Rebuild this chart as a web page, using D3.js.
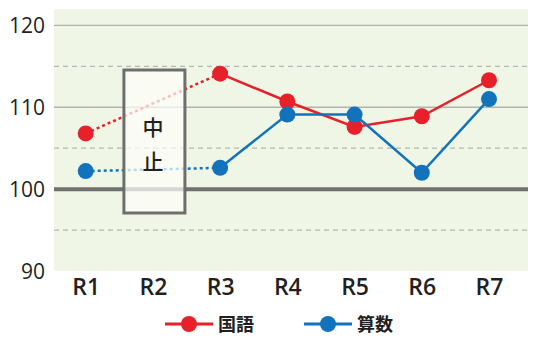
<!DOCTYPE html>
<html>
<head>
<meta charset="utf-8">
<script src="https://cdn.jsdelivr.net/npm/d3@7"></script>
<style>
  body { margin: 0; background: #fff; }
  text { font-family: "Noto Sans CJK JP", "Noto Sans", sans-serif; fill: #231f20; }
</style>
</head>
<body>
<svg id="chart"></svg>
<script>
var width = 538, height = 342;

var rounds = ["R1", "R2", "R3", "R4", "R5", "R6", "R7"];
var kokugo = [106.8, null, 114.1, 110.7, 107.6, 108.9, 113.3];
var sansu = [102.2, null, 102.6, 109.1, 109.1, 102.0, 111.0];
var yTicks = [90, 100, 110, 120];
var solidGrid = [110, 120];
var dashedGrid = [95, 105, 115];

var seriesList = [
  { name: "国語", values: kokugo, color: "#e8202a" },
  { name: "算数", values: sansu, color: "#1273bc" }
];

var svg = d3.select("#chart").attr("width", width).attr("height", height);

var x = d3.scalePoint().domain(rounds).range([85.7, 489]);
var y = d3.scaleLinear().domain([90, 122]).range([271, 9]);

// background
svg.append("rect")
  .attr("x", 54).attr("y", y(122))
  .attr("width", 528 - 54).attr("height", y(90) - y(122))
  .attr("fill", "#f0f6e6");

svg.selectAll(".gs").data(solidGrid).enter().append("line")
  .attr("x1", 54).attr("x2", 528)
  .attr("y1", function(d) { return y(d); }).attr("y2", function(d) { return y(d); })
  .attr("stroke", "#b0b4ac").attr("stroke-width", 1.3);

svg.selectAll(".gd").data(dashedGrid).enter().append("line")
  .attr("x1", 54).attr("x2", 528)
  .attr("y1", function(d) { return y(d); }).attr("y2", function(d) { return y(d); })
  .attr("stroke", "#b4b8b4").attr("stroke-width", 1.2)
  .attr("stroke-dasharray", "5,4");

// baseline 100
svg.append("line")
  .attr("x1", 54).attr("x2", 528)
  .attr("y1", y(100)).attr("y2", y(100))
  .attr("stroke", "#717171").attr("stroke-width", 4);

// lines
var line = d3.line()
  .defined(function(d) { return d.v != null; })
  .x(function(d) { return x(d.r); })
  .y(function(d) { return y(d.v); });

seriesList.forEach(function(s) {
  var pts = rounds.map(function(r, i) { return { r: r, v: s.values[i] }; });
  // dotted bridge over the skipped round
  svg.append("path")
    .attr("d", line([pts[0], pts[2]]))
    .attr("fill", "none").attr("stroke", s.color)
    .attr("stroke-width", 2.5).attr("stroke-dasharray", "3,3");
  svg.append("path")
    .attr("d", line(pts.slice(2)))
    .attr("fill", "none").attr("stroke", s.color)
    .attr("stroke-width", 2.5);
});

// 中止 box
var bx = x("R2") - 29;
svg.append("rect")
  .attr("x", bx).attr("y", 70)
  .attr("width", 61).attr("height", 143)
  .attr("fill", "#fdfdf8").attr("fill-opacity", 0.72)
  .attr("stroke", "#6e6e6e").attr("stroke-width", 3);

svg.append("text").attr("x", x("R2")).attr("y", 135)
  .attr("text-anchor", "middle").attr("font-size", 21).attr("font-weight", 500).text("中");
svg.append("text").attr("x", x("R2")).attr("y", 169)
  .attr("text-anchor", "middle").attr("font-size", 21).attr("font-weight", 500).text("止");

// markers
seriesList.forEach(function(s) {
  svg.selectAll(null).data(rounds.filter(function(r, i) { return s.values[i] != null; }))
    .enter().append("circle")
    .attr("cx", function(d) { return x(d); })
    .attr("cy", function(d) { return y(s.values[rounds.indexOf(d)]); })
    .attr("r", 8)
    .attr("fill", s.color);
});

// axes
var yAxis = svg.append("g").attr("transform", "translate(45,0)")
  .call(d3.axisLeft(y).tickValues(yTicks).tickSize(0).tickPadding(0));
yAxis.select(".domain").remove();
yAxis.selectAll("text").attr("font-size", 21).attr("dy", "0.36em")
  .style("font-family", "'Open Sans', sans-serif").style("fill", "#231f20");

var xAxis = svg.append("g").attr("transform", "translate(0,271)")
  .call(d3.axisBottom(x).tickSize(0).tickPadding(0));
xAxis.select(".domain").remove();
xAxis.selectAll("text").attr("font-size", 23).attr("y", 24).attr("dy", 0)
  .attr("font-weight", 600)
  .style("font-family", "'Open Sans', sans-serif").style("fill", "#231f20");

// legend
var legendX = [165, 304];
seriesList.forEach(function(s, i) {
  var g = svg.append("g").attr("transform", "translate(" + legendX[i] + ",324)");
  g.append("line").attr("x1", 0).attr("x2", 48).attr("y1", 0).attr("y2", 0)
    .attr("stroke", s.color).attr("stroke-width", 3);
  g.append("circle").attr("cx", 24).attr("cy", 0).attr("r", 8).attr("fill", s.color);
  g.append("text").attr("x", 53).attr("y", 7).attr("font-size", 18)
    .attr("font-weight", "bold").text(s.name);
});
</script>
</body>
</html>
